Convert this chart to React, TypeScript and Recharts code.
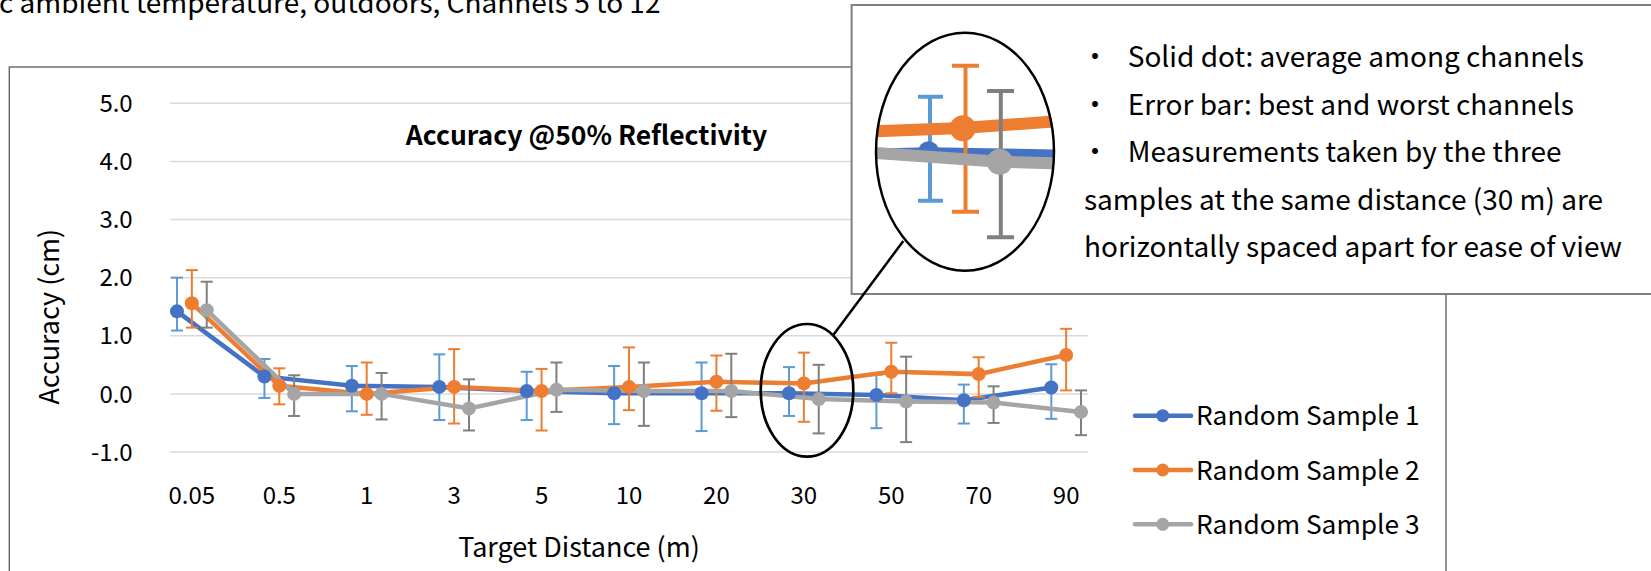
import React from 'react';
import { LineChart, Line, XAxis, YAxis, CartesianGrid, ErrorBar, Legend } from 'recharts';

// ---- data ----
const categories = ['0.05', '0.5', '1', '3', '5', '10', '20', '30', '50', '70', '90'];
const seriesNames = ['Random Sample 1', 'Random Sample 2', 'Random Sample 3'];

const s1Avg = [1.42, 0.30, 0.14, 0.12, 0.05, 0.01, 0.01, 0.01, -0.02, -0.11, 0.11];
const s1Max = [2.00, 0.60, 0.48, 0.68, 0.38, 0.48, 0.54, 0.46, 0.33, 0.16, 0.51];
const s1Min = [1.09, -0.07, -0.30, -0.45, -0.45, -0.52, -0.64, -0.38, -0.59, -0.51, -0.43];

const s2Avg = [1.56, 0.14, 0.00, 0.12, 0.05, 0.12, 0.21, 0.18, 0.38, 0.34, 0.67];
const s2Max = [2.13, 0.44, 0.54, 0.77, 0.43, 0.80, 0.66, 0.71, 0.88, 0.63, 1.12];
const s2Min = [1.14, -0.18, -0.36, -0.51, -0.63, -0.28, -0.29, -0.48, 0.01, -0.05, 0.06];

const s3Avg = [1.44, 0.00, 0.00, -0.25, 0.07, 0.05, 0.05, -0.09, -0.13, -0.15, -0.31];
const s3Max = [1.93, 0.32, 0.36, 0.25, 0.54, 0.54, 0.69, 0.50, 0.64, 0.13, 0.06];
const s3Min = [1.14, -0.38, -0.44, -0.63, -0.31, -0.55, -0.40, -0.68, -0.83, -0.50, -0.71];

const yTicks = [-1, 0, 1, 2, 3, 4, 5];
// horizontal spacing of the three samples within a category
const sampleOffsets = [-0.17, 0, 0.17];

const lineColors = ['#4472C4', '#ED7D31', '#A5A5A5'];
const errColors = ['#5B9BD5', '#ED7D31', '#7F7F7F'];

const FONT = '"Noto Sans CJK JP", "Noto Sans", sans-serif';

function buildRows(avg: number[], max: number[], min: number[], off: number) {
  return avg.map((v, i) => ({
    x: i + off,
    cat: categories[i],
    y: v,
    err: [v - min[i], max[i] - v],
  }));
}

const series = [
  { name: seriesNames[0], rows: buildRows(s1Avg, s1Max, s1Min, sampleOffsets[0]), color: lineColors[0], err: errColors[0] },
  { name: seriesNames[1], rows: buildRows(s2Avg, s2Max, s2Min, sampleOffsets[1]), color: lineColors[1], err: errColors[1] },
  { name: seriesNames[2], rows: buildRows(s3Avg, s3Max, s3Min, sampleOffsets[2]), color: lineColors[2], err: errColors[2] },
];

const XTick = (props: any) => {
  const { x, y, payload } = props;
  return (
    <text x={x} y={y} dy={52.4} textAnchor="middle" fontFamily={FONT} fontSize={24} fill="#000">
      {categories[payload.value]}
    </text>
  );
};

const YTick = (props: any) => {
  const { x, y, payload } = props;
  return (
    <text x={x - 37.3} y={y} dy={8.7} textAnchor="end" fontFamily={FONT} fontSize={24} fill="#000">
      {Number(payload.value).toFixed(1)}
    </text>
  );
};

const renderLegend = () => (
  <svg width={320} height={170} style={{ display: 'block', overflow: 'visible' }}>
    {series.map((s, i) => {
      const cy = 30.7 + i * 54.3;
      return (
        <g key={s.name}>
          <line x1={5} y1={cy} x2={61} y2={cy} stroke={s.color} strokeWidth={4.5} strokeLinecap="round" />
          <circle cx={32.7} cy={cy} r={6.5} fill={s.color} />
          <text x={66} y={cy} dy={9.6} fontFamily={FONT} fontSize={26.3} fill="#000">
            {s.name}
          </text>
        </g>
      );
    })}
  </svg>
);

const Overlay = () => {
  const ex = 965, ey = 151.7, erx = 89, ery = 119;
  return (
    <svg
      width={1651}
      height={571}
      style={{ position: 'absolute', left: 0, top: 0, pointerEvents: 'none' }}
    >
      <defs>
        <clipPath id="insetClip">
          <ellipse cx={ex} cy={ey} rx={erx} ry={ery} />
        </clipPath>
      </defs>
      {/* clipped subtitle from the page */}
      <text x={-1} y={13} fontFamily={FONT} fontSize={28} fill="#000">
        c ambient temperature, outdoors, Channels 5 to 12
      </text>
      {/* chart area border */}
      <rect x={9.3} y={67} width={1436.7} height={560} fill="none" stroke="#595959" strokeWidth={1.3} />
      {/* chart title */}
      <text x={586.5} y={145} textAnchor="middle" fontFamily={FONT} fontSize={26.5} fontWeight="bold" fill="#000">
        Accuracy @50% Reflectivity
      </text>
      {/* axis titles */}
      <text
        x={49}
        y={316.7}
        transform="rotate(-90 49 316.7)"
        dy={9.8}
        textAnchor="middle"
        fontFamily={FONT}
        fontSize={27}
        fill="#000"
      >
        Accuracy (cm)
      </text>
      <text x={579} y={546.7} dy={9.8} textAnchor="middle" fontFamily={FONT} fontSize={27} fill="#000">
        Target Distance (m)
      </text>

      {/* callout box */}
      <rect x={851.6} y={5} width={830} height={289} fill="#fff" stroke="#7F7F7F" strokeWidth={2} />
      {/* magnified inset */}
      <ellipse cx={ex} cy={ey} rx={erx} ry={ery} fill="#fff" />
      <g clipPath="url(#insetClip)">
        <polyline points="876,153 928.6,151.7 1054,154" fill="none" stroke={lineColors[0]} strokeWidth={9} />
        <g stroke={errColors[0]} strokeWidth={4}>
          <line x1={930} y1={96.7} x2={930} y2={200.7} />
          <line x1={918} y1={96.7} x2={943} y2={96.7} />
          <line x1={918} y1={200.7} x2={943} y2={200.7} />
        </g>
        <circle cx={928.6} cy={151.7} r={10.5} fill={lineColors[0]} />
        <polyline points="870,131.5 963,128 1060,121" fill="none" stroke={lineColors[1]} strokeWidth={12} />
        <g stroke={errColors[1]} strokeWidth={4}>
          <line x1={965.5} y1={65.7} x2={965.5} y2={211.7} />
          <line x1={952} y1={65.7} x2={979} y2={65.7} />
          <line x1={952} y1={211.7} x2={979} y2={211.7} />
        </g>
        <circle cx={962.8} cy={128.3} r={13} fill={lineColors[1]} />
        <polyline points="870,152.5 1000,161.7 1060,163.5" fill="none" stroke={lineColors[2]} strokeWidth={12} />
        <g stroke={errColors[2]} strokeWidth={4}>
          <line x1={1000.8} y1={91} x2={1000.8} y2={237.3} />
          <line x1={987} y1={91} x2={1014} y2={91} />
          <line x1={987} y1={237.3} x2={1014} y2={237.3} />
        </g>
        <circle cx={999.7} cy={161.7} r={13} fill={lineColors[2]} />
      </g>
      <ellipse cx={ex} cy={ey} rx={erx} ry={ery} fill="none" stroke="#000" strokeWidth={2.5} />

      {/* callout text */}
      <g fontFamily={FONT} fontSize={28} fill="#000">
        <text x={1095} y={67} textAnchor="middle">・</text>
        <text x={1127.7} y={67}>Solid dot: average among channels</text>
        <text x={1095} y={114.5} textAnchor="middle">・</text>
        <text x={1127.7} y={114.5}>Error bar: best and worst channels</text>
        <text x={1095} y={162} textAnchor="middle">・</text>
        <text x={1127.7} y={162}>Measurements taken by the three</text>
        <text x={1084} y={209.5}>samples at the same distance (30 m) are</text>
        <text x={1084} y={257}>horizontally spaced apart for ease of view</text>
      </g>

      {/* connector and highlight ellipse */}
      <line x1={903.3} y1={241} x2={833.3} y2={335} stroke="#000" strokeWidth={2.5} />
      <ellipse cx={807} cy={390.3} rx={46.3} ry={66.3} fill="none" stroke="#000" strokeWidth={2.7} />
    </svg>
  );
};

export default function App() {
  return (
    <div style={{ position: 'absolute', left: 0, top: 0, width: 1651, height: 571, background: '#fff' }}>
      <LineChart width={1651} height={571} margin={{ top: 103.3, right: 563, bottom: 0, left: 0 }}>
        <CartesianGrid vertical={false} stroke="#D9D9D9" strokeWidth={1.5} />
        <XAxis
          type="number"
          dataKey="x"
          domain={[-0.25, 10.25]}
          ticks={categories.map((_, i) => i)}
          interval={0}
          tick={<XTick />}
          tickLine={false}
          axisLine={false}
          tickSize={0}
          tickMargin={0}
          height={119}
          allowDataOverflow
        />
        <YAxis
          type="number"
          domain={[-1, 5]}
          ticks={yTicks}
          interval={0}
          tick={<YTick />}
          tickLine={false}
          axisLine={false}
          tickSize={0}
          tickMargin={0}
          width={170}
          allowDataOverflow
        />
        {series.map((s) => (
          <Line
            key={s.name}
            data={s.rows}
            dataKey="y"
            name={s.name}
            stroke={s.color}
            strokeWidth={4.5}
            dot={{ r: 7, fill: s.color, stroke: s.color, strokeWidth: 0 }}
            activeDot={false}
            isAnimationActive={false}
          >
            <ErrorBar dataKey="err" direction="y" width={6} stroke={s.err} strokeWidth={2} />
          </Line>
        ))}
        <Legend
          layout="vertical"
          align="center"
          verticalAlign="middle"
          width={320}
          height={170}
          content={renderLegend}
          wrapperStyle={{ left: 1130, top: 385, width: 320, height: 170 }}
        />
      </LineChart>
      <Overlay />
    </div>
  );
}
